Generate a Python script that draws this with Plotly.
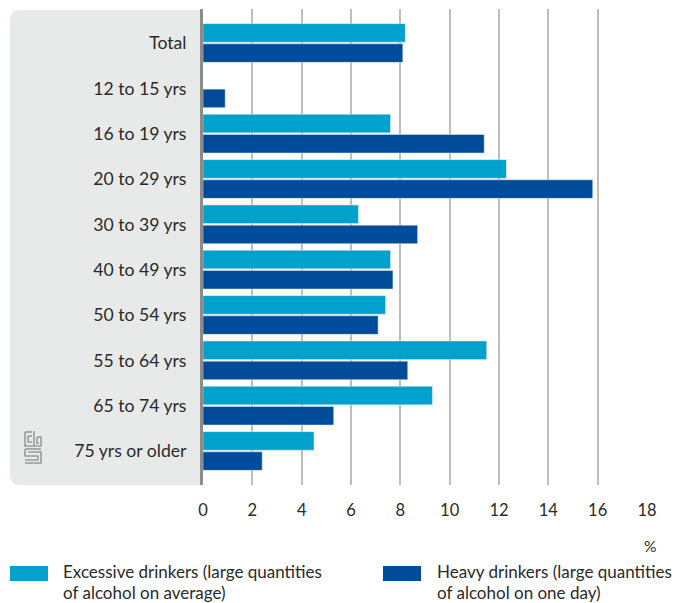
import plotly.graph_objects as go

categories = ["Total", "12 to 15 yrs", "16 to 19 yrs", "20 to 29 yrs", "30 to 39 yrs",
              "40 to 49 yrs", "50 to 54 yrs", "55 to 64 yrs", "65 to 74 yrs", "75 yrs or older"]
excessive = [8.2, None, 7.6, 12.3, 6.3, 7.6, 7.4, 11.5, 9.3, 4.5]
heavy = [8.1, 0.9, 11.4, 15.8, 8.7, 7.7, 7.1, 8.3, 5.3, 2.4]
x_ticks = [0, 2, 4, 6, 8, 10, 12, 14, 16, 18]
legend_lines = [["Excessive drinkers (large quantities", "of alcohol on average)"],
                ["Heavy drinkers (large quantities", "of alcohol on one day)"]]

LIGHT = "#00A1CD"
DARK = "#004C9A"
FONT = "Lato"
TXT = "#2A2A2A"

W, H = 695, 603
L, R, T, B = 203, 647, 9, 485

def px(x, y):
    return (x - L) / (R - L), (B - y) / (B - T)

fig = go.Figure()
fig.add_trace(go.Bar(y=categories, x=excessive, orientation="h", marker_color=LIGHT,
                     name="Excessive", showlegend=False))
fig.add_trace(go.Bar(y=categories, x=heavy, orientation="h", marker_color=DARK,
                     name="Heavy", showlegend=False))

shapes = []
r = 10
def P(x, y):
    a, b = px(x, y)
    return f"{a:.5f},{b:.5f}"
path = (f"M {P(203, 10)} L {P(10 + r, 10)} Q {P(10, 10)} {P(10, 10 + r)} "
        f"L {P(10, 485 - r)} Q {P(10, 485)} {P(10 + r, 485)} L {P(203, 485)} Z")
shapes.append(dict(type="path", path=path, xref="paper", yref="paper",
                   fillcolor="#E8E9E9", line=dict(width=0), layer="below"))

# CBS logo (simplified)
logo = [
    [(25, 432), (25, 446), (33, 446)],
    [(25, 432), (32, 432)],
    [(28, 436), (32, 436)],
    [(28, 436), (28, 442), (32, 442)],
    [(34, 431), (34, 446), (41, 446), (41, 437), (37, 437)],
    [(37, 437), (37, 443), (39, 443)],
    [(25, 449), (41, 449)],
    [(25, 449), (25, 456), (38, 456), (38, 460), (25, 460)],
    [(28, 452), (41, 452), (41, 463), (25, 463)],
]
for seg in logo:
    d = "M " + " L ".join(P(x, y) for x, y in seg)
    shapes.append(dict(type="path", path=d, xref="paper", yref="paper",
                       line=dict(color="#9A9A9A", width=1.6)))

swatches = [(10, 48, LIGHT), (383, 421, DARK)]
text_x = [63, 437]
annotations = []
for (x0, x1, col), tx, lines in zip(swatches, text_x, legend_lines):
    shapes.append(dict(type="rect", xref="paper", yref="paper",
                       x0=px(x0, 0)[0], x1=px(x1, 0)[0], y0=px(0, 581)[1], y1=px(0, 566)[1],
                       fillcolor=col, line=dict(width=0)))
    for line, yc in zip(lines, [571, 592.5]):
        annotations.append(dict(text=line, x=px(tx - 1, 0)[0], y=px(0, yc)[1],
                                xref="paper", yref="paper", xanchor="left", yanchor="middle",
                                showarrow=False, align="left", borderpad=0,
                                font=dict(family=FONT, size=17, color=TXT)))
annotations.append(dict(text="%", x=px(650, 0)[0], y=px(0, 546)[1], xref="paper", yref="paper",
                        xanchor="center", yanchor="middle", showarrow=False,
                        font=dict(family=FONT, size=15.5, color=TXT)))

fig.update_layout(
    width=W, height=H,
    margin=dict(l=L, r=W - R, t=T, b=H - B),
    paper_bgcolor="white", plot_bgcolor="rgba(0,0,0,0)",
    barmode="group", bargap=0.11, bargroupgap=0.08,
    shapes=shapes, annotations=annotations,
    showlegend=False,
    font=dict(family=FONT, size=16, color=TXT),
)
fig.update_xaxes(range=[0, 18], tickvals=x_ticks, showgrid=True, gridcolor="#BDBDBD",
                 gridwidth=1.5, zeroline=False, showline=False, ticks="",
                 ticklabelstandoff=13, tickfont=dict(family=FONT, size=16.5, color=TXT),
                 fixedrange=True)
fig.update_yaxes(range=[9.75, -0.75], showgrid=False, zeroline=False, showline=True,
                 linecolor="#8C8C8C", linewidth=3, ticks="", ticklabelstandoff=10,
                 tickfont=dict(family=FONT, size=17.6, color=TXT), fixedrange=True)

fig.write_html("out.html", config={"displayModeBar": False},
               post_script="document.body.style.margin='0';")
